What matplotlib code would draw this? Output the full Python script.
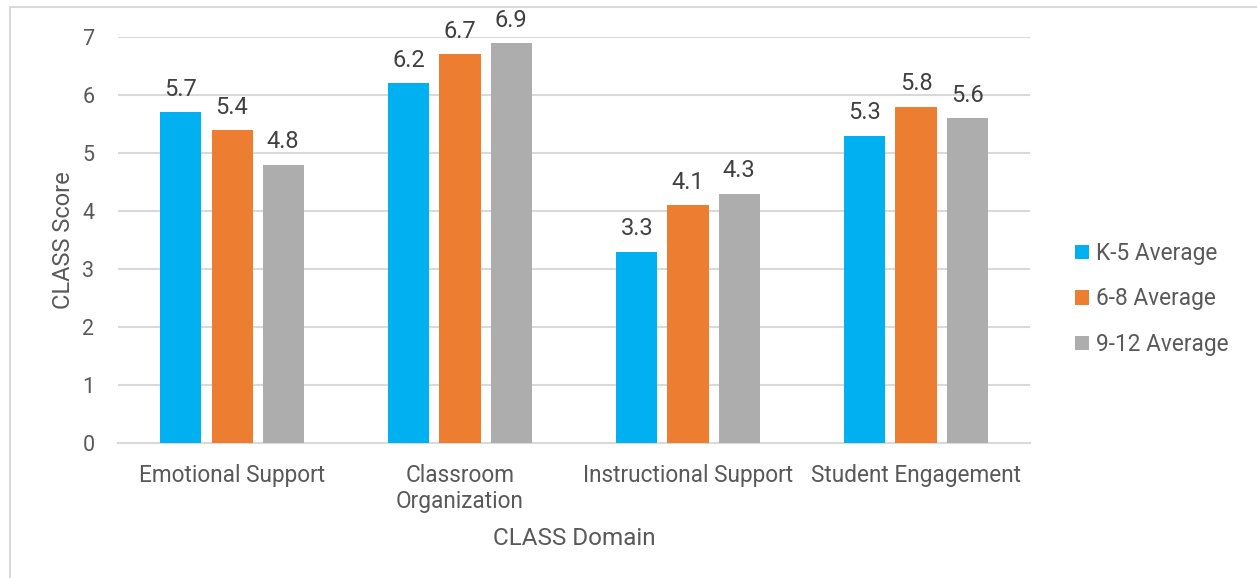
import matplotlib.pyplot as plt
import matplotlib.patches as mpatches
import numpy as np

dominios = ["Emotional Support", "Classroom\nOrganization", "Instructional Support", "Student Engagement"]
series = ["K-5 Average", "6-8 Average", "9-12 Average"]
k5 = [5.7, 6.2, 3.3, 5.3]
g68 = [5.4, 6.7, 4.1, 5.8]
g912 = [4.8, 6.9, 4.3, 5.6]
colores = ["#00B0F0", "#ED7D31", "#ADADAD"]

plt.rcParams['font.family'] = ['Roboto', 'DejaVu Sans']
texto = "#595959"

fig = plt.figure(figsize=(12.57, 5.78), dpi=100)
ax = fig.add_axes([0.0939, 0.2336, 0.7255, 0.7024])

# borde del gráfico
fig.patches.append(mpatches.Rectangle((10 / 1257, -0.05), 1.1, (578 - 7) / 578 + 0.05,
                                      transform=fig.transFigure, fill=False,
                                      edgecolor="#D9D9D9", linewidth=1.5))

x = np.arange(len(dominios))
ancho = 0.18
paso = 0.224
for i, (vals, nombre) in enumerate(zip([k5, g68, g912], series)):
    barras = ax.bar(x + (i - 1) * paso, vals, ancho, color=colores[i], label=nombre, zorder=3)
    for b, v in zip(barras, vals):
        ax.text(b.get_x() + b.get_width() / 2, v + 0.28, f"{v}", ha="center", va="baseline",
                fontsize=17, color="#404040")

ax.set_xlim(-0.5, 3.5)
ax.set_ylim(0, 7)
ax.set_yticks(range(8))
ax.set_xticks(x)
ax.set_xticklabels(dominios, fontsize=16.3, color=texto, linespacing=1.2)
ax.tick_params(axis="y", labelsize=15.5, colors=texto, length=0, pad=17)
ax.tick_params(axis="x", length=0, pad=15)
ax.grid(axis="y", color="#D9D9D9", linewidth=1.5, zorder=0)
for s in ["top", "right", "left"]:
    ax.spines[s].set_visible(False)
ax.spines["bottom"].set_color("#D9D9D9")
ax.spines["bottom"].set_linewidth(1.5)

ax.set_ylabel("CLASS Score", fontsize=17, color=texto, labelpad=5)
ax.set_xlabel("CLASS Domain", fontsize=17.5, color=texto, labelpad=10)

ax.legend(loc="center left", bbox_to_anchor=(1.03, 0.355), frameon=False, fontsize=16.3,
          labelcolor=texto, handlelength=0.6, handleheight=0.6, handletextpad=0.3,
          labelspacing=1.0, borderaxespad=0.4)

fig.savefig("out.png", dpi=100)
